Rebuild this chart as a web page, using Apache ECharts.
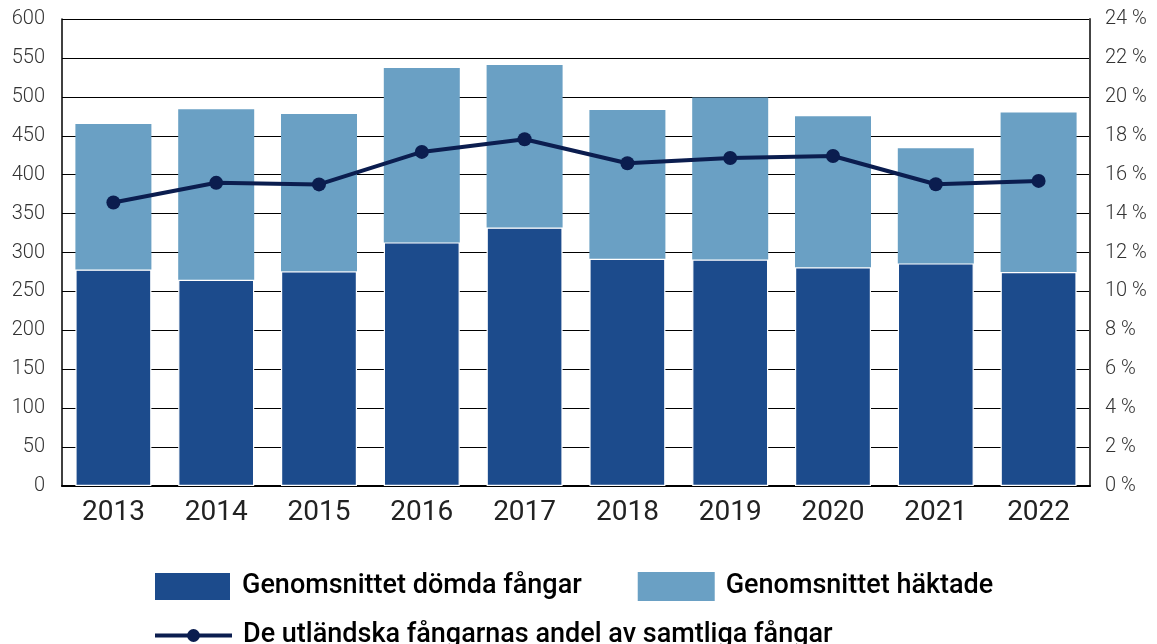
<!DOCTYPE html>
<html><head><meta charset="utf-8">
<script src="https://cdn.jsdelivr.net/npm/echarts@6/dist/echarts.min.js"></script>
<style>html,body{margin:0;padding:0;background:#fff}#c{width:1157px;height:644px}</style>
</head><body><div id="c"></div>
<script>
const years = ['2013','2014','2015','2016','2017','2018','2019','2020','2021','2022'];
const domda = [278, 265, 276, 313, 332, 292, 291, 281, 286, 275];
const haktade = [187, 219, 202, 224, 209, 191, 208, 194, 148, 205];
const andel = [14.57, 15.58, 15.50, 17.17, 17.82, 16.59, 16.86, 16.96, 15.51, 15.68];
const leftTicks = {min: 0, max: 600, interval: 50};
const rightTicks = {min: 0, max: 24, interval: 2};

const F = "Roboto, 'DejaVu Sans', sans-serif";
const chart = echarts.init(document.getElementById('c'), null, {renderer: 'canvas'});
chart.setOption({
  animation: false,
  backgroundColor: '#fff',
  grid: {left: 62, right: 67, top: 19, bottom: 158},
  legend: [
    {data: ['Genomsnittet dömda fångar', 'Genomsnittet häktade'], left: 148, top: 566,
     itemWidth: 77, itemHeight: 29, itemGap: 56, icon: 'rect',
     textStyle: {fontFamily: F, fontSize: 27, fontWeight: 500, color: '#000', padding: [0, 0, 0, 6]}},
    {data: ['De utländska fångarnas andel av samtliga fångar'], left: 148, top: 617,
     itemWidth: 77, itemHeight: 16,
     lineStyle: {width: 4},
     textStyle: {fontFamily: F, fontSize: 27, fontWeight: 500, color: '#000', padding: [0, 0, 0, 6]}}
  ],
  xAxis: {
    type: 'category', data: years,
    axisLine: {lineStyle: {color: '#000', width: 2}},
    axisTick: {show: false},
    axisLabel: {fontFamily: F, fontSize: 28, color: '#222', margin: 13}
  },
  yAxis: [
    {type: 'value', min: leftTicks.min, max: leftTicks.max, interval: leftTicks.interval,
     axisLine: {show: true, lineStyle: {color: '#000', width: 1.5}},
     axisTick: {show: false},
     splitLine: {lineStyle: {color: '#000', width: 1}},
     axisLabel: {fontFamily: F, fontSize: 20, fontWeight: 300, color: '#333', margin: 17}},
    {type: 'value', min: rightTicks.min, max: rightTicks.max, interval: rightTicks.interval,
     position: 'right',
     axisLine: {show: true, lineStyle: {color: '#444', width: 2}},
     axisTick: {show: false},
     splitLine: {show: false},
     axisLabel: {fontFamily: F, fontSize: 20, fontWeight: 300, color: '#333', margin: 15, formatter: '{value} %'}}
  ],
  series: [
    {name: 'Genomsnittet dömda fångar', type: 'bar', stack: 's', data: domda, barWidth: 76,
     itemStyle: {color: '#1c4b8c', borderColor: '#fff', borderWidth: 1.2}},
    {name: 'Genomsnittet häktade', type: 'bar', stack: 's', data: haktade, barWidth: 76,
     itemStyle: {color: '#6aa0c4'}},
    {name: 'De utländska fångarnas andel av samtliga fångar', type: 'line', yAxisIndex: 1, data: andel,
     symbol: 'circle', symbolSize: 14,
     lineStyle: {color: '#0b1d4f', width: 4}, itemStyle: {color: '#0b1d4f'}, z: 5}
  ]
});
</script></body></html>
